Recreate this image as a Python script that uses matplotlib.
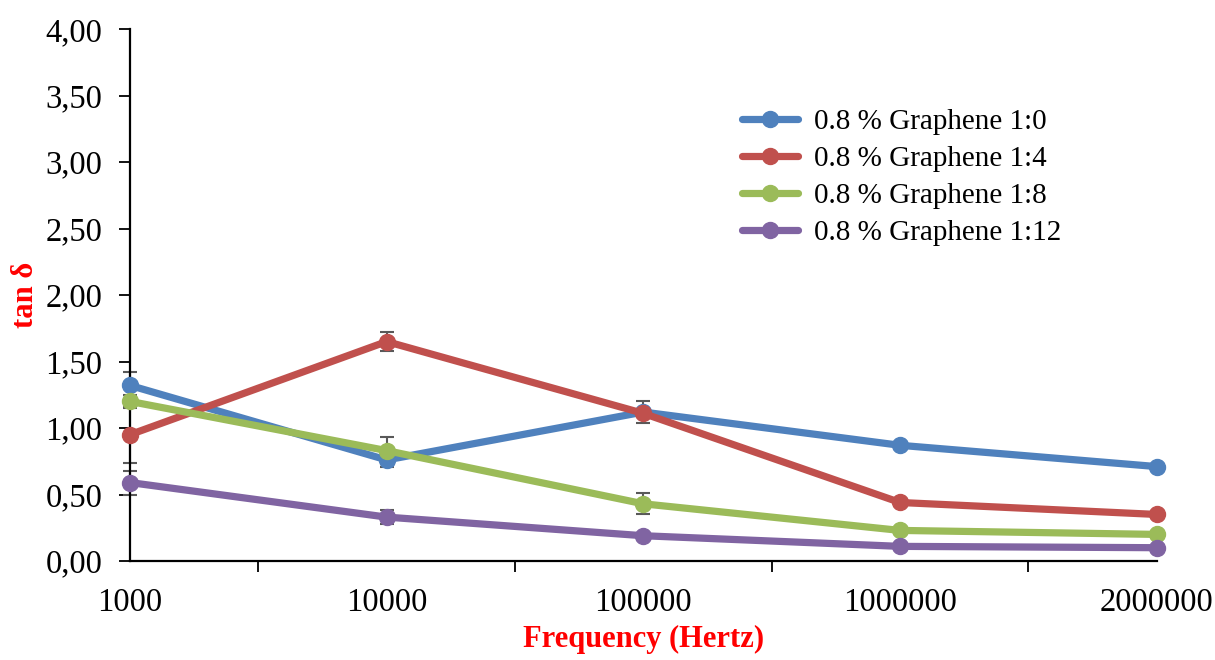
import matplotlib
matplotlib.use("Agg")
import matplotlib.pyplot as plt
from matplotlib.ticker import FixedLocator, FuncFormatter

# ---- data ----
categories = ["1000", "10000", "100000", "1000000", "2000000"]
series_names = ["0.8 % Graphene 1:0", "0.8 % Graphene 1:4",
                "0.8 % Graphene 1:8", "0.8 % Graphene 1:12"]
g_1_0 = [1.32, 0.76, 1.12, 0.87, 0.71]
g_1_4 = [0.95, 1.65, 1.11, 0.44, 0.35]
g_1_8 = [1.20, 0.83, 0.43, 0.23, 0.20]
g_1_12 = [0.59, 0.33, 0.19, 0.11, 0.10]
err_1_0 = [0.10, 0.05, 0.08, 0.01, 0.01]
err_1_4 = [0.21, 0.07, 0.02, 0.01, 0.01]
err_1_8 = [0.05, 0.10, 0.08, 0.02, 0.01]
err_1_12 = [0.09, 0.05, 0.02, 0.01, 0.01]
y_ticks = [0.0, 0.5, 1.0, 1.5, 2.0, 2.5, 3.0, 3.5, 4.0]

colors = ["#4F81BD", "#C0504D", "#9BBB59", "#8064A2"]
serif = ["Liberation Serif", "DejaVu Serif"]

fig = plt.figure(figsize=(12.15, 6.6), dpi=100)
ax = fig.add_axes([0.107, 0.15, 0.845, 0.806])

x = list(range(len(categories)))
all_vals = [g_1_0, g_1_4, g_1_8, g_1_12]
all_errs = [err_1_0, err_1_4, err_1_8, err_1_12]

for vals, errs, c, name in zip(all_vals, all_errs, colors, series_names):
    ax.errorbar(x, vals, yerr=errs, fmt="none", ecolor="#595959",
                elinewidth=1.5, capsize=5, capthick=1.5, zorder=2, clip_on=False)
    ax.plot(x, vals, color=c, lw=5.2, marker="o", markersize=11.5,
            label=name, zorder=3, clip_on=False, solid_capstyle="round")

ax.set_xlim(0, len(categories) - 1)
ax.set_ylim(0, 4)

ax.set_xticks(x)
ax.set_xticklabels(categories, fontfamily=serif, fontsize=23.5)
ax.tick_params(axis="x", which="major", length=0, pad=19)
ax.xaxis.set_minor_locator(FixedLocator([0, 0.5, 1.5, 2.5, 3.5, 4]))
ax.tick_params(axis="x", which="minor", length=8, width=1.3, direction="out")

ax.set_yticks(y_ticks)
ax.yaxis.set_major_formatter(FuncFormatter(lambda v, p: f"{v:.2f}".replace(".", ",")))
ax.tick_params(axis="y", length=8, width=1.3, direction="out", pad=12)
for lbl in ax.get_yticklabels():
    lbl.set_fontfamily(serif)
    lbl.set_fontsize(23.5)

for s in ["top", "right"]:
    ax.spines[s].set_visible(False)
for s in ["left", "bottom"]:
    ax.spines[s].set_linewidth(1.6)

ax.set_xlabel("Frequency (Hertz)", fontfamily=serif, fontsize=22,
              fontweight="bold", color="red", labelpad=5)
ax.set_ylabel("tan δ", fontfamily=serif, fontsize=22,
              fontweight="bold", color="red", labelpad=4)

leg = ax.legend(loc="upper left", bbox_to_anchor=(0.585, 0.872), frameon=False,
                prop={"family": serif, "size": 21}, handlelength=1.9,
                handletextpad=0.55, labelspacing=0.36, borderaxespad=0)

fig.savefig("out.png", dpi=100)
